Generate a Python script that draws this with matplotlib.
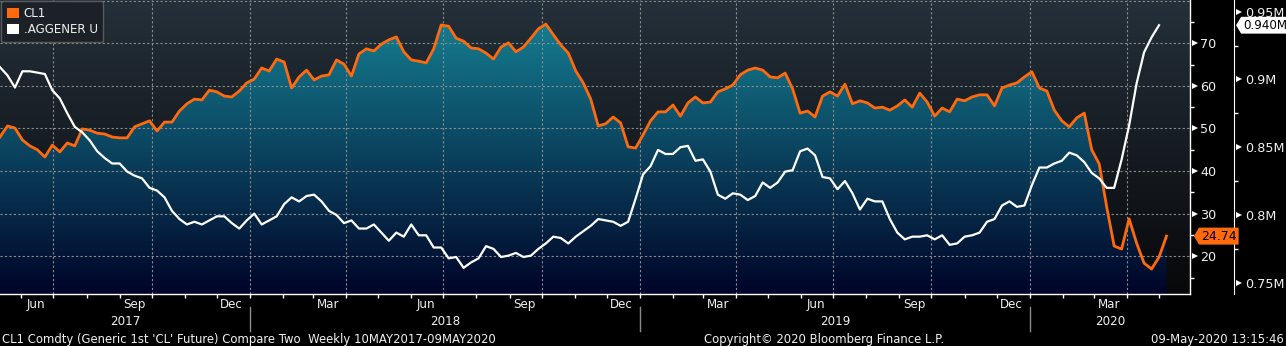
import numpy as np
import pandas as pd
import matplotlib
matplotlib.use("Agg")
import matplotlib.pyplot as plt
import matplotlib.dates as mdates
import matplotlib.transforms as mtransforms
from matplotlib.path import Path
from matplotlib.patches import Patch
from matplotlib.lines import Line2D
from matplotlib.ticker import FuncFormatter

plt.rcParams['font.family'] = ['Liberation Sans Narrow', 'DejaVu Sans']

# weekly closes, generic 1st crude future (USD/bbl)
cl1 = [
    48.0, 50.6, 50.1, 47.3, 45.9, 45.0, 43.3, 46.1, 44.5, 46.6,
    45.9, 49.9, 49.6, 48.9, 48.7, 48.0, 47.8, 47.8, 50.4, 51.1,
    51.8, 49.4, 51.5, 51.5, 54.1, 55.8, 56.9, 56.7, 59.0, 58.6,
    57.6, 57.4, 58.8, 60.7, 61.6, 64.2, 63.5, 66.3, 65.6, 59.5,
    62.1, 63.7, 61.4, 62.3, 62.6, 66.1, 65.1, 62.3, 67.5, 68.7,
    68.2, 69.8, 70.8, 71.5, 68.0, 66.1, 65.8, 65.4, 68.7, 74.3,
    74.0, 71.2, 70.5, 68.9, 68.7, 67.7, 66.3, 69.1, 70.1, 68.0,
    69.1, 71.2, 73.4, 74.5, 72.0, 69.6, 67.7, 63.5, 60.7, 56.9,
    50.6, 51.1, 52.7, 51.3, 45.7, 45.4, 48.5, 51.8, 53.9, 53.9,
    55.5, 52.9, 56.0, 57.4, 56.0, 56.2, 58.6, 59.3, 60.2, 62.6,
    63.7, 64.2, 63.7, 62.1, 61.9, 63.0, 59.3, 53.6, 54.1, 52.7,
    57.6, 58.6, 57.6, 60.4, 55.8, 56.5, 56.0, 54.8, 55.0, 54.3,
    55.3, 56.7, 55.0, 58.3, 56.2, 52.9, 54.8, 53.9, 56.9, 56.5,
    57.4, 57.9, 57.9, 55.3, 59.5, 60.2, 60.7, 62.1, 63.3, 59.5,
    58.8, 54.3, 51.8, 50.4, 52.5, 53.6, 45.0, 41.7, 31.6, 22.4,
    21.7, 28.8, 23.1, 18.4, 17.0, 19.8, 24.74,
]

# .AGGENER U, millions
aggener = [
    0.909, 0.903, 0.894, 0.906, 0.906, 0.905, 0.904, 0.892, 0.886, 0.875,
    0.865, 0.861, 0.855, 0.847, 0.842, 0.838, 0.838, 0.832, 0.829, 0.827,
    0.820, 0.818, 0.813, 0.803, 0.797, 0.793, 0.795, 0.793, 0.796, 0.799,
    0.799, 0.794, 0.790, 0.796, 0.801, 0.793, 0.796, 0.799, 0.808, 0.813,
    0.810, 0.814, 0.815, 0.810, 0.803, 0.800, 0.794, 0.796, 0.790, 0.790,
    0.793, 0.787, 0.781, 0.787, 0.784, 0.793, 0.785, 0.785, 0.776, 0.776,
    0.768, 0.769, 0.761, 0.765, 0.768, 0.777, 0.775, 0.769, 0.770, 0.772,
    0.769, 0.770, 0.775, 0.779, 0.784, 0.783, 0.779, 0.784, 0.788, 0.792,
    0.797, 0.796, 0.795, 0.792, 0.795, 0.812, 0.830, 0.836, 0.848, 0.845,
    0.845, 0.850, 0.851, 0.840, 0.841, 0.832, 0.815, 0.812, 0.816, 0.815,
    0.811, 0.814, 0.824, 0.820, 0.824, 0.832, 0.833, 0.847, 0.849, 0.844,
    0.828, 0.827, 0.819, 0.825, 0.816, 0.804, 0.812, 0.810, 0.810, 0.797,
    0.787, 0.782, 0.784, 0.784, 0.785, 0.782, 0.785, 0.778, 0.779, 0.784,
    0.785, 0.787, 0.795, 0.797, 0.807, 0.810, 0.806, 0.807, 0.822, 0.835,
    0.835, 0.838, 0.840, 0.846, 0.844, 0.839, 0.831, 0.827, 0.820, 0.820,
    0.841, 0.866, 0.897, 0.920, 0.931, 0.940,
]

cl1_ticks = [20, 30, 40, 50, 60, 70]
cl1_minor = [15, 25, 35, 45, 55, 65, 75]
agg_ticks = [0.75, 0.80, 0.85, 0.90, 0.95]
agg_minor = [0.775, 0.825, 0.875, 0.925]
years = [2017, 2018, 2019, 2020]

weeks = pd.date_range("2017-05-12", periods=len(cl1), freq="7D")
agg_weeks = weeks[:len(aggener)]

ORANGE = '#ff6a0d'
FG = '#f0f0f0'
GRID = '#8c8c8c'
FS = 8.6


def vgrad(top, bottom, n=256):
    t = np.linspace(0, 1, n)[:, None]
    top = np.array(top) / 255.0
    bottom = np.array(bottom) / 255.0
    return (top * (1 - t) + bottom * t)[:, None, :]


def tag_box(x0, y0, width, height, mutation_size):
    # price tag shape with a point on the left
    pad = 0.16 * mutation_size
    x0, y0 = x0 - pad, y0 - pad
    x1, y1 = x0 + width + 2 * pad, y0 + height + 2 * pad
    tip = (y1 - y0) / 2
    verts = [(x0 - tip * 0.6, (y0 + y1) / 2), (x0, y0), (x1, y0), (x1, y1), (x0, y1),
             (x0 - tip * 0.6, (y0 + y1) / 2)]
    return Path(verts, closed=True)


W, H = 1286, 346
fig = plt.figure(figsize=(W / 100, H / 100), dpi=100, facecolor='black')
ax = fig.add_axes([0, 1 - 294 / H, 1190 / W, 294 / H])
ax.set_facecolor('black')

x0, x1 = pd.Timestamp("2017-05-12"), pd.Timestamp("2020-05-30")

# background and gradient fill under CL1
ax.imshow(vgrad((36, 48, 58), (8, 8, 10)), extent=[0, 1, 0, 1],
          transform=ax.transAxes, aspect='auto', zorder=0)
fill_img = ax.imshow(vgrad((22, 134, 152), (0, 4, 40)), extent=[0, 1, 0, 1],
                     transform=ax.transAxes, aspect='auto', zorder=1)
poly = ax.fill_between(weeks, cl1, 0, facecolor='none', edgecolor='none')
fill_img.set_clip_path(poly.get_paths()[0], ax.transData)

# dotted grid
for v in cl1_ticks + [80]:
    ax.axhline(v, color=GRID, lw=0.8, ls=(0, (2, 2)), zorder=2)
for q in pd.date_range("2017-07-01", "2020-04-01", freq="QS"):
    ax.axvline(q, color=GRID, lw=0.8, ls=(0, (2, 2)), zorder=2)

ax.plot(weeks, cl1, color=ORANGE, lw=2.0, zorder=4, solid_joinstyle='round')

ax.set_xlim(x0, x1)
ax.set_ylim(11.15, 80.16)

# x axis: month ticks, quarter month names, years
ax.xaxis.set_minor_locator(mdates.MonthLocator())
ax.xaxis.set_major_locator(mdates.MonthLocator(bymonth=(3, 6, 9, 12), bymonthday=15))
ax.xaxis.set_major_formatter(mdates.DateFormatter('%b'))
ax.tick_params(axis='x', which='major', length=0, pad=3, labelcolor=FG, labelsize=FS)
ax.tick_params(axis='x', which='minor', length=3, width=1, color='white', direction='out')

xt = mtransforms.blended_transform_factory(ax.transData, ax.transAxes)
for yr in years:
    a = max(pd.Timestamp(f"{yr}-01-01"), x0)
    b = min(pd.Timestamp(f"{yr + 1}-01-01"), x1)
    ax.text(a + (b - a) / 2, -0.092, str(yr), transform=xt, ha='center', va='center',
            color=FG, fontsize=FS, clip_on=False)
    if yr > years[0]:
        ax.add_line(Line2D([a, a], [-0.045, -0.125], transform=xt, color='#8a8a8a',
                           lw=1, clip_on=False))

# AGGENER axis (twinx moves the first y axis to the left, so it is fixed below)
ax2 = ax.twinx()
ax2.plot(agg_weeks, aggener, color='white', lw=1.6, zorder=4, solid_joinstyle='round')
ax2.set_xlim(x0, x1)
ax2.set_ylim(0.7417, 0.9586)
ax2.set_yticks(agg_ticks)
ax2.set_yticks(agg_minor, minor=True)
ax2.yaxis.set_major_formatter(FuncFormatter(lambda v, p: f"{v:g}M"))
ax2.tick_params(axis='y', which='major', length=0, pad=8, labelcolor=FG, labelsize=9.2)
ax2.tick_params(axis='y', which='minor', length=3, width=1, color='white', direction='out')
for s in ['top', 'left', 'bottom']:
    ax2.spines[s].set_visible(False)
ax2.spines['right'].set_position(('axes', 1.037))
ax2.spines['right'].set_color('white')
yt2 = mtransforms.blended_transform_factory(ax2.transAxes, ax2.transData)
ax2.plot([1.037 + 5 / 1190] * len(agg_ticks), agg_ticks, ls='none', marker='>', ms=5,
         mew=0, color='white', transform=yt2, clip_on=False)

# CL1 axis on the right
ax.yaxis.tick_right()
ax.set_yticks(cl1_ticks)
ax.set_yticks(cl1_minor, minor=True)
ax.tick_params(axis='y', which='both', left=False, labelleft=False, right=True, labelright=True)
ax.tick_params(axis='y', which='major', length=0, pad=7.5, labelcolor=FG, labelsize=9.2)
ax.tick_params(axis='y', which='minor', length=3, width=1, color='white', direction='out')
for s in ['top', 'left']:
    ax.spines[s].set_visible(False)
for s in ['right', 'bottom']:
    ax.spines[s].set_visible(True)
    ax.spines[s].set_color('white')
    ax.spines[s].set_linewidth(1)
    ax.spines[s].set_zorder(5)

yt = mtransforms.blended_transform_factory(ax.transAxes, ax.transData)
ax.plot([1 + 5 / 1190] * len(cl1_ticks), cl1_ticks, ls='none', marker='>', ms=5,
        mew=0, color='white', transform=yt, clip_on=False)

# last-value tags, drawn on ax2 so they sit above both spines
yt_cl1 = mtransforms.blended_transform_factory(ax2.transAxes, ax.transData)
ax2.text(1 + 11 / 1190, cl1[-1], f"{cl1[-1]:.2f}", transform=yt_cl1, ha='left', va='center',
         color='black', fontsize=9.0, clip_on=False, zorder=6,
         bbox=dict(boxstyle=tag_box, fc=ORANGE, ec='none'))
ax2.text(1.037 + 9 / 1190, aggener[-1], f"{aggener[-1]:.3f}M", transform=yt2, ha='left',
         va='center', color='black', fontsize=8.6, clip_on=False, zorder=6,
         bbox=dict(boxstyle=tag_box, fc='white', ec='none'))

# legend
handles = [Patch(facecolor=ORANGE, edgecolor='none'), Patch(facecolor='white', edgecolor='none')]
leg = ax2.legend(handles, ['CL1', '.AGGENER U'], loc='upper left', bbox_to_anchor=(0.0012, 0.997),
                 frameon=True, fancybox=True, facecolor='#1b2127', edgecolor='#5a5a5a',
                 framealpha=1, labelcolor=FG, fontsize=FS, handlelength=0.95, handleheight=0.95,
                 handletextpad=0.4, borderpad=0.5, labelspacing=0.3, borderaxespad=0)
leg.get_frame().set_linewidth(1)

# footer
fy = 1 - 339 / H
fig.text(2 / W, fy, "CL1 Comdty (Generic 1st 'CL' Future) Compare Two  Weekly 10MAY2017-09MAY2020",
         color=FG, fontsize=8.4, ha='left', va='center')
fig.text(704 / W, fy, "Copyright\u00a9 2020 Bloomberg Finance L.P.", color=FG, fontsize=8.4,
         ha='left', va='center')
fig.text(1284 / W, fy, "09-May-2020 13:15:46", color=FG, fontsize=8.4, ha='right', va='center')

fig.savefig('out.png', dpi=100, facecolor='black')
